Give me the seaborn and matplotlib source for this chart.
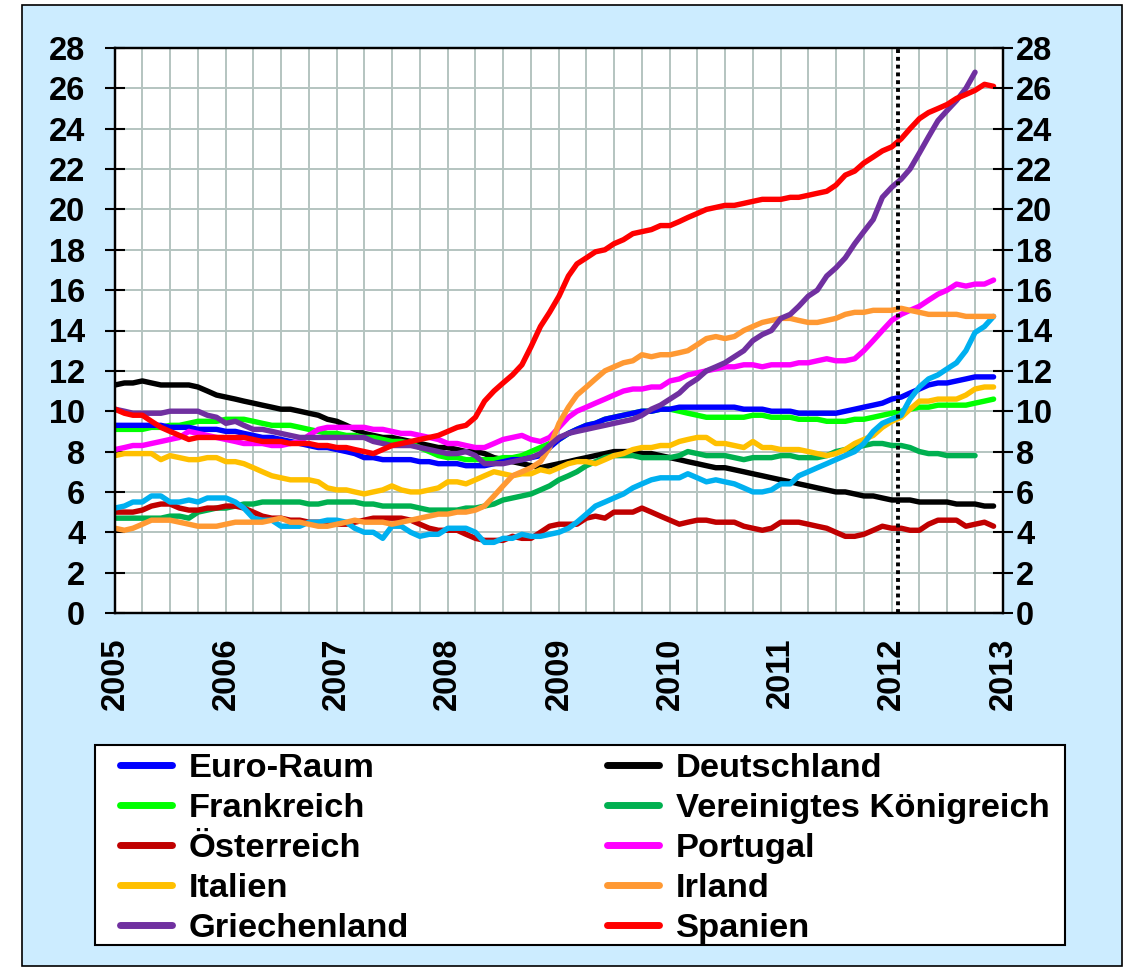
import numpy as np
import pandas as pd
import matplotlib
matplotlib.use("Agg")
import matplotlib.pyplot as plt
import matplotlib.dates as mdates
from matplotlib.lines import Line2D
from matplotlib.patches import Rectangle
import seaborn as sns

# ---------------- data (monthly, Jan 2005 - Dec 2012) ----------------
start_month = "2005-01-01"
marker_date = "2012-01-20"
year_labels = ["2005", "2006", "2007", "2008", "2009", "2010", "2011", "2012", "2013"]
y_ticks = list(range(0, 29, 2))

euro_raum = [9.3, 9.3, 9.3, 9.3, 9.3, 9.3, 9.2, 9.2, 9.2, 9.1, 9.1, 9.1,
             9.0, 9.0, 8.9, 8.8, 8.7, 8.7, 8.6, 8.5, 8.4, 8.3, 8.2, 8.2,
             8.1, 8.0, 7.9, 7.7, 7.7, 7.6, 7.6, 7.6, 7.6, 7.5, 7.5, 7.4,
             7.4, 7.4, 7.3, 7.3, 7.3, 7.4, 7.5, 7.6, 7.6, 7.7, 7.8, 8.2,
             8.6, 8.9, 9.1, 9.3, 9.4, 9.6, 9.7, 9.8, 9.9, 10.0, 10.0, 10.1,
             10.1, 10.2, 10.2, 10.2, 10.2, 10.2, 10.2, 10.2, 10.1, 10.1, 10.1, 10.0,
             10.0, 10.0, 9.9, 9.9, 9.9, 9.9, 9.9, 10.0, 10.1, 10.2, 10.3, 10.4,
             10.6, 10.7, 10.9, 11.1, 11.3, 11.4, 11.4, 11.5, 11.6, 11.7, 11.7, 11.7]

deutschland = [11.3, 11.4, 11.4, 11.5, 11.4, 11.3, 11.3, 11.3, 11.3, 11.2, 11.0, 10.8,
               10.7, 10.6, 10.5, 10.4, 10.3, 10.2, 10.1, 10.1, 10.0, 9.9, 9.8, 9.6,
               9.5, 9.3, 9.1, 8.9, 8.8, 8.7, 8.7, 8.6, 8.5, 8.4, 8.3, 8.2,
               8.2, 8.1, 8.0, 8.0, 7.9, 7.7, 7.6, 7.5, 7.4, 7.3, 7.2, 7.3,
               7.4, 7.5, 7.6, 7.7, 7.8, 7.9, 8.0, 8.0, 8.0, 7.9, 7.9, 7.8,
               7.7, 7.6, 7.5, 7.4, 7.3, 7.2, 7.2, 7.1, 7.0, 6.9, 6.8, 6.7,
               6.6, 6.5, 6.4, 6.3, 6.2, 6.1, 6.0, 6.0, 5.9, 5.8, 5.8, 5.7,
               5.6, 5.6, 5.6, 5.5, 5.5, 5.5, 5.5, 5.4, 5.4, 5.4, 5.3, 5.3]

frankreich = [9.1, 9.1, 9.1, 9.1, 9.2, 9.2, 9.3, 9.3, 9.4, 9.5, 9.5, 9.5,
              9.6, 9.6, 9.6, 9.5, 9.4, 9.3, 9.3, 9.3, 9.2, 9.1, 9.0, 8.9,
              8.9, 8.8, 8.8, 8.7, 8.7, 8.6, 8.5, 8.5, 8.4, 8.2, 8.0, 7.8,
              7.7, 7.7, 7.6, 7.6, 7.6, 7.6, 7.7, 7.7, 7.8, 8.0, 8.2, 8.4,
              8.6, 8.9, 9.1, 9.3, 9.4, 9.6, 9.7, 9.8, 9.9, 10.0, 10.0, 10.1,
              10.1, 10.0, 9.9, 9.8, 9.7, 9.7, 9.7, 9.7, 9.7, 9.8, 9.8, 9.7,
              9.7, 9.7, 9.6, 9.6, 9.6, 9.5, 9.5, 9.5, 9.6, 9.6, 9.7, 9.8,
              9.9, 10.0, 10.1, 10.2, 10.2, 10.3, 10.3, 10.3, 10.3, 10.4, 10.5, 10.6]

vereinigtes_koenigreich = [4.7, 4.7, 4.7, 4.7, 4.7, 4.7, 4.8, 4.8, 4.7, 5.0, 5.1, 5.2,
                           5.2, 5.3, 5.4, 5.4, 5.5, 5.5, 5.5, 5.5, 5.5, 5.4, 5.4, 5.5,
                           5.5, 5.5, 5.5, 5.4, 5.4, 5.3, 5.3, 5.3, 5.3, 5.2, 5.1, 5.1,
                           5.1, 5.1, 5.2, 5.2, 5.3, 5.4, 5.6, 5.7, 5.8, 5.9, 6.1, 6.3,
                           6.6, 6.8, 7.0, 7.3, 7.5, 7.7, 7.8, 7.8, 7.8, 7.7, 7.7, 7.7,
                           7.7, 7.8, 8.0, 7.9, 7.8, 7.8, 7.8, 7.7, 7.6, 7.7, 7.7, 7.7,
                           7.8, 7.8, 7.7, 7.7, 7.7, 7.8, 8.0, 8.1, 8.2, 8.3, 8.4, 8.4,
                           8.3, 8.3, 8.2, 8.0, 7.9, 7.9, 7.8, 7.8, 7.8, 7.8]

oesterreich = [5.0, 5.0, 5.0, 5.1, 5.3, 5.4, 5.4, 5.2, 5.1, 5.1, 5.2, 5.2,
               5.3, 5.3, 5.2, 5.0, 4.8, 4.7, 4.7, 4.6, 4.6, 4.5, 4.5, 4.4,
               4.4, 4.4, 4.5, 4.6, 4.7, 4.7, 4.7, 4.7, 4.6, 4.4, 4.2, 4.1,
               4.1, 4.1, 3.9, 3.7, 3.6, 3.6, 3.6, 3.8, 3.7, 3.7, 4.0, 4.3,
               4.4, 4.4, 4.4, 4.7, 4.8, 4.7, 5.0, 5.0, 5.0, 5.2, 5.0, 4.8,
               4.6, 4.4, 4.5, 4.6, 4.6, 4.5, 4.5, 4.5, 4.3, 4.2, 4.1, 4.2,
               4.5, 4.5, 4.5, 4.4, 4.3, 4.2, 4.0, 3.8, 3.8, 3.9, 4.1, 4.3,
               4.2, 4.2, 4.1, 4.1, 4.4, 4.6, 4.6, 4.6, 4.3, 4.4, 4.5, 4.3]

portugal = [8.1, 8.2, 8.3, 8.3, 8.4, 8.5, 8.6, 8.7, 9.0, 8.9, 8.8, 8.7,
            8.6, 8.5, 8.4, 8.4, 8.4, 8.3, 8.3, 8.4, 8.5, 8.8, 9.1, 9.2,
            9.2, 9.2, 9.2, 9.2, 9.1, 9.1, 9.0, 8.9, 8.9, 8.8, 8.7, 8.6,
            8.4, 8.4, 8.3, 8.2, 8.2, 8.4, 8.6, 8.7, 8.8, 8.6, 8.5, 8.7,
            9.2, 9.7, 10.0, 10.2, 10.4, 10.6, 10.8, 11.0, 11.1, 11.1, 11.2, 11.2,
            11.5, 11.6, 11.8, 11.9, 12.0, 12.1, 12.2, 12.2, 12.3, 12.3, 12.2, 12.3,
            12.3, 12.3, 12.4, 12.4, 12.5, 12.6, 12.5, 12.5, 12.6, 13.0, 13.5, 14.0,
            14.5, 14.8, 15.0, 15.2, 15.5, 15.8, 16.0, 16.3, 16.2, 16.3, 16.3, 16.5]

italien = [7.8, 7.9, 7.9, 7.9, 7.9, 7.6, 7.8, 7.7, 7.6, 7.6, 7.7, 7.7,
           7.5, 7.5, 7.4, 7.2, 7.0, 6.8, 6.7, 6.6, 6.6, 6.6, 6.5, 6.2,
           6.1, 6.1, 6.0, 5.9, 6.0, 6.1, 6.3, 6.1, 6.0, 6.0, 6.1, 6.2,
           6.5, 6.5, 6.4, 6.6, 6.8, 7.0, 6.9, 6.8, 6.9, 6.9, 7.1, 7.0,
           7.2, 7.4, 7.5, 7.5, 7.4, 7.6, 7.8, 7.9, 8.1, 8.2, 8.2, 8.3,
           8.3, 8.5, 8.6, 8.7, 8.7, 8.4, 8.4, 8.3, 8.2, 8.5, 8.2, 8.2,
           8.1, 8.1, 8.1, 8.0, 7.9, 7.8, 7.9, 8.1, 8.4, 8.6, 8.8, 9.2,
           9.5, 9.7, 10.1, 10.5, 10.5, 10.6, 10.6, 10.6, 10.8, 11.1, 11.2, 11.2]

irland = [4.2, 4.1, 4.2, 4.4, 4.6, 4.6, 4.6, 4.5, 4.4, 4.3, 4.3, 4.3,
          4.4, 4.5, 4.5, 4.5, 4.5, 4.6, 4.7, 4.5, 4.5, 4.4, 4.3, 4.3,
          4.4, 4.5, 4.6, 4.5, 4.5, 4.5, 4.4, 4.5, 4.6, 4.7, 4.8, 4.9,
          4.9, 5.0, 5.0, 5.1, 5.3, 5.8, 6.3, 6.8, 7.0, 7.2, 7.5, 8.2,
          9.4, 10.2, 10.8, 11.2, 11.6, 12.0, 12.2, 12.4, 12.5, 12.8, 12.7, 12.8,
          12.8, 12.9, 13.0, 13.3, 13.6, 13.7, 13.6, 13.7, 14.0, 14.2, 14.4, 14.5,
          14.6, 14.6, 14.5, 14.4, 14.4, 14.5, 14.6, 14.8, 14.9, 14.9, 15.0, 15.0,
          15.0, 15.1, 15.0, 14.9, 14.8, 14.8, 14.8, 14.8, 14.7, 14.7, 14.7, 14.7]

griechenland = [10.1, 10.0, 9.9, 9.9, 9.9, 9.9, 10.0, 10.0, 10.0, 10.0, 9.8, 9.7,
                9.4, 9.5, 9.3, 9.1, 9.1, 9.0, 8.9, 8.8, 8.7, 8.7, 8.7, 8.7,
                8.7, 8.7, 8.7, 8.7, 8.5, 8.4, 8.3, 8.3, 8.3, 8.2, 8.1, 8.0,
                7.9, 7.9, 8.0, 7.8, 7.4, 7.4, 7.4, 7.5, 7.6, 7.7, 7.9, 8.3,
                8.7, 8.9, 9.0, 9.1, 9.2, 9.3, 9.4, 9.5, 9.6, 9.8, 10.1, 10.3,
                10.6, 10.9, 11.3, 11.6, 12.0, 12.2, 12.4, 12.7, 13.0, 13.5, 13.8, 14.0,
                14.6, 14.8, 15.2, 15.7, 16.0, 16.7, 17.1, 17.6, 18.3, 18.9, 19.5, 20.6,
                21.1, 21.5, 22.0, 22.8, 23.6, 24.4, 24.9, 25.4, 26.0, 26.8]

spanien = [10.1, 9.9, 9.8, 9.8, 9.5, 9.2, 9.0, 8.8, 8.6, 8.7, 8.7, 8.7,
           8.7, 8.7, 8.7, 8.6, 8.5, 8.5, 8.5, 8.4, 8.4, 8.4, 8.3, 8.3,
           8.2, 8.2, 8.1, 8.0, 7.9, 8.1, 8.3, 8.4, 8.5, 8.6, 8.7, 8.8,
           9.0, 9.2, 9.3, 9.7, 10.5, 11.0, 11.4, 11.8, 12.3, 13.2, 14.2, 14.9,
           15.7, 16.7, 17.3, 17.6, 17.9, 18.0, 18.3, 18.5, 18.8, 18.9, 19.0, 19.2,
           19.2, 19.4, 19.6, 19.8, 20.0, 20.1, 20.2, 20.2, 20.3, 20.4, 20.5, 20.5,
           20.5, 20.6, 20.6, 20.7, 20.8, 20.9, 21.2, 21.7, 21.9, 22.3, 22.6, 22.9,
           23.1, 23.5, 24.0, 24.5, 24.8, 25.0, 25.2, 25.5, 25.7, 25.9, 26.2, 26.1]

# series drawn in the chart but not listed in the legend
ohne_legende = [5.2, 5.3, 5.5, 5.5, 5.8, 5.8, 5.5, 5.5, 5.6, 5.5, 5.7, 5.7,
                5.7, 5.5, 5.2, 4.7, 4.6, 4.6, 4.3, 4.3, 4.3, 4.5, 4.5, 4.6,
                4.6, 4.5, 4.2, 4.0, 4.0, 3.7, 4.3, 4.3, 4.0, 3.8, 3.9, 3.9,
                4.2, 4.2, 4.2, 4.0, 3.5, 3.5, 3.7, 3.7, 3.9, 3.8, 3.8, 3.9,
                4.0, 4.2, 4.5, 4.9, 5.3, 5.5, 5.7, 5.9, 6.2, 6.4, 6.6, 6.7,
                6.7, 6.7, 6.9, 6.7, 6.5, 6.6, 6.5, 6.4, 6.2, 6.0, 6.0, 6.1,
                6.4, 6.4, 6.8, 7.0, 7.2, 7.4, 7.6, 7.8, 8.0, 8.4, 9.0, 9.4,
                9.6, 9.8, 10.6, 11.2, 11.6, 11.8, 12.1, 12.4, 13.0, 13.9, 14.2, 14.7]

series = {
    "Euro-Raum": euro_raum,
    "Deutschland": deutschland,
    "Frankreich": frankreich,
    "Vereinigtes Königreich": vereinigtes_koenigreich,
    "Österreich": oesterreich,
    "Portugal": portugal,
    "Italien": italien,
    "Irland": irland,
    "Griechenland": griechenland,
    "Spanien": spanien,
    "_ohne": ohne_legende,
}

colors = {
    "Euro-Raum": "#0000FF",
    "Deutschland": "#000000",
    "Frankreich": "#00FF00",
    "Vereinigtes Königreich": "#00B050",
    "Österreich": "#C00000",
    "Portugal": "#FF00FF",
    "Italien": "#FFC000",
    "Irland": "#FF9933",
    "Griechenland": "#7030A0",
    "Spanien": "#FF0000",
    "_ohne": "#00B0F0",
}

legend_order = ["Euro-Raum", "Frankreich", "Österreich", "Italien", "Griechenland",
                "Deutschland", "Vereinigtes Königreich", "Portugal", "Irland", "Spanien"]
draw_order = ["Deutschland", "Vereinigtes Königreich", "Österreich", "Frankreich",
              "Euro-Raum", "Italien", "Portugal", "_ohne", "Irland", "Griechenland", "Spanien"]

months = pd.date_range(start_month, periods=96, freq="MS")
rows = []
for name, vals in series.items():
    for d, v in zip(months[:len(vals)], vals):
        rows.append((name, d, v))
df = pd.DataFrame(rows, columns=["Land", "Datum", "Wert"])

# ---------------- figure ----------------
sns.set_style("white")
plt.rcParams["font.family"] = ["Liberation Sans", "DejaVu Sans"]
plt.rcParams["font.weight"] = "bold"
for k in ["text.color", "axes.labelcolor", "xtick.color", "ytick.color"]:
    plt.rcParams[k] = "black"

W, H = 1128, 968
fig = plt.figure(figsize=(W / 100, H / 100), dpi=100, facecolor="white")
bg = "#CCECFF"
fig.patches.append(Rectangle((22 / W, 1 - 966 / H), 1100 / W, 961 / H, transform=fig.transFigure,
                             facecolor=bg, edgecolor="black", linewidth=1.2, zorder=-10))
# legend frame
fig.patches.append(Rectangle((95 / W, 1 - 945 / H), (1065 - 95) / W, 200 / H, transform=fig.transFigure,
                             facecolor="white", edgecolor="black", linewidth=1.5, zorder=-5))

ax = fig.add_axes([115 / W, 1 - 613 / H, (1003 - 115) / W, (613 - 48) / H])
ax.set_facecolor("white")

sns.lineplot(data=df, x="Datum", y="Wert", hue="Land", hue_order=draw_order,
             palette=colors, linewidth=3.9, legend=False, ax=ax,
             estimator=None, sort=False)
for ln in ax.get_lines():
    ln.set_solid_capstyle("round")
    ln.set_solid_joinstyle("round")

ax.axvline(pd.Timestamp(marker_date), color="black", linestyle=(0, (1, 1)), linewidth=2.8, zorder=5)

x0, x1 = pd.Timestamp("2005-01-01"), pd.Timestamp("2013-01-01")
ax.set_xlim(x0, x1)
ax.set_ylim(0, 28)
ax.set_yticks(y_ticks)
ax.set_yticklabels([str(t) for t in y_ticks])
year_pos = [pd.Timestamp(f"{y}-01-01") for y in year_labels]
ax.set_xticks(year_pos)
ax.set_xticklabels(year_labels, rotation=90)
ax.xaxis.set_minor_locator(mdates.MonthLocator(bymonth=[1, 4, 7, 10]))

ax.grid(True, which="both", axis="x", color="#B4C4C0", linewidth=1.4)
ax.grid(True, which="major", axis="y", color="#B4C4C0", linewidth=1.4)
ax.set_axisbelow(True)
ax.set_xlabel("")
ax.set_ylabel("")

for s in ax.spines.values():
    s.set_color("black")
    s.set_linewidth(1.6)

ax.tick_params(axis="y", which="major", direction="inout", length=15, width=1.5,
               labelsize=23.5, pad=14, colors="black")
ax.tick_params(axis="x", which="both", direction="inout", length=16, width=1.5,
               labelsize=23.5, pad=10, colors="black")

ax2 = ax.twinx()
ax2.set_ylim(0, 28)
ax2.set_yticks(y_ticks)
ax2.set_yticklabels([str(t) for t in y_ticks])
ax2.tick_params(axis="y", direction="inout", length=15, width=1.5, labelsize=23.5, pad=2,
                colors="black")
for s in ax2.spines.values():
    s.set_color("black")
    s.set_linewidth(1.6)

for lab in ax.get_xticklabels() + ax.get_yticklabels() + ax2.get_yticklabels():
    lab.set_fontweight("bold")

handles = [Line2D([0], [0], color=colors[n], linewidth=5, solid_capstyle="round") for n in legend_order]
leg = fig.legend(handles, legend_order, loc="upper left", ncol=2,
                 bbox_to_anchor=(120 / W, 1 - 753 / H),
                 frameon=False, prop={"size": 24.8, "weight": "bold"},
                 handlelength=1.5, handletextpad=0.5, labelspacing=0.26,
                 columnspacing=5.75, borderpad=0, borderaxespad=0)
for t in leg.get_texts():
    t.set_color("black")

fig.savefig("out.png", dpi=100, facecolor="white")
